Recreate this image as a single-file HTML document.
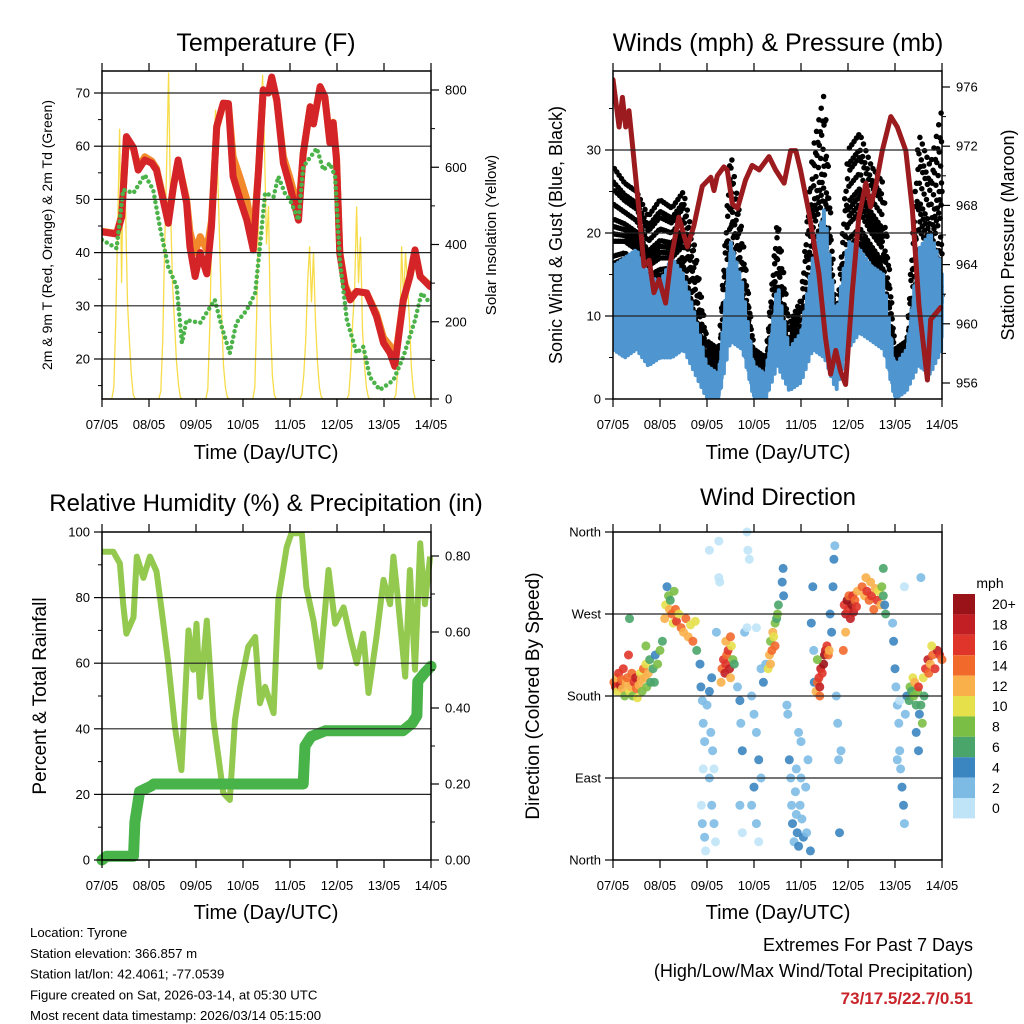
<!DOCTYPE html>
<html><head><meta charset="utf-8">
<style>
html,body{margin:0;padding:0;background:#fff;}
svg{display:block;font-family:"Liberation Sans",Arial,sans-serif;}
</style></head>
<body>
<svg id="c" width="1024" height="1024" viewBox="0 0 1024 1024"></svg>
<script>
// ---------- DATA ----------
const tempDays=[0,0.31,0.42,0.52,0.67,0.77,0.91,1.06,1.16,1.41,1.52,1.62,1.8,1.87,1.98,2.09,2.23,2.33,2.44,2.58,2.69,2.79,2.94,3.08,3.22,3.33,3.43,3.54,3.61,3.72,3.86,4.0,4.18,4.28,4.43,4.5,4.64,4.74,4.85,4.92,4.99,5.06,5.17,5.28,5.42,5.63,5.84,5.99,6.13,6.23,6.41,6.55,6.66,6.77,6.98];
const temp2m=[43.9,43.5,46.7,61.8,59.7,55.5,57.4,56.8,55.5,45.5,52.4,57.4,49.3,41.1,35.5,40,36,44.9,63.7,68.1,68,54.3,49.9,46.1,40.5,55.5,70.6,70,73,68.7,56.8,52.4,46.1,58.7,67.4,64.2,71.2,69.3,60.6,64.4,57.4,39.9,33.6,31.1,32.7,32.4,28,23,21.1,18.6,31.1,35.5,40.5,35.5,33.6];
const temp9m=[44,43.6,47,61.5,59.5,56,58,57.2,55.8,46,52.4,57.2,50,44,40,43,40.5,46,63.5,68,68,58,54,50,43,55.5,70.5,70,72.5,68.5,58,54,48,58.5,67.4,64.5,71,69.3,61,64.5,58,40,34,31.5,32.7,32.4,28.5,24,22.5,19.5,31,35.5,40,35.5,33.8];
const dewDays=[0,0.31,0.45,0.67,0.91,1.09,1.23,1.41,1.59,1.7,1.8,2.09,2.4,2.55,2.72,2.86,3.08,3.26,3.36,3.47,3.65,3.75,3.89,4.0,4.18,4.28,4.57,4.71,4.85,4.96,5.06,5.21,5.42,5.56,5.7,5.91,6.2,6.41,6.66,6.8,6.98];
const dew2m=[42.4,40.8,51.8,51.2,54.6,51.8,44.9,37.3,33.6,23,27.3,26.8,31.1,26,21.1,26.8,29.2,32.4,41.1,51.2,50.5,54.3,51.2,49.9,46.1,56.1,59.6,55.5,56.8,54.3,38.6,27.3,21.1,22.3,16.6,14.2,16,20.4,27.3,32.4,30.5];
// hourly solar insolation (W/m2), 7 days x 24 h
const solar=[
0,0,0,0,0,0,30,200,450,700,300,650,500,250,150,60,10,0,0,0,0,0,0,0,
0,0,0,0,0,0,20,150,400,600,845,500,300,200,100,40,5,0,0,0,0,0,0,0,
0,0,0,0,0,0,25,180,420,650,749,600,420,230,90,30,5,0,0,0,0,0,0,0,
0,0,0,0,0,0,30,220,500,700,840,650,400,500,200,60,10,0,0,0,0,0,0,0,
0,0,0,0,0,0,10,60,150,300,395,250,380,200,100,30,5,0,0,0,0,0,0,0,
0,0,0,0,0,0,10,80,200,280,498,300,420,180,90,30,5,0,0,0,0,0,0,0,
0,0,0,0,0,0,10,70,160,395,250,380,300,200,80,20,0,0,0,0,0,0,0,0];
const windDays=[0,0.25,0.5,0.75,1,1.25,1.5,1.75,2,2.25,2.5,2.75,3,3.25,3.5,3.75,4,4.25,4.5,4.75,5,5.25,5.5,5.75,6,6.25,6.5,6.75,7];
const windLo=[6,5,6,4,5,5,6,3,0,0,7,6,0,0,4,1,2,6,5,1,6,8,7,6,0,1,4,3,6];
const windHi=[16,17,18,15,14,17,15,10,4,3,19,14,4,3,14,6,8,17,23,10,19,18,16,15,4,6,18,20,16];
const gustLo=[10,12,11,10,10,11,12,6,2,1,12,9,1,1,9,2,3,11,12,3,12,13,12,10,1,2,9,8,10];
const gustHi=[28,26,25,22,24,23,25,18,7,6,30,20,6,5,22,9,12,30,37,9,30,32,28,26,6,7,32,28,35];
const presDays=[0,0.13,0.2,0.27,0.34,0.41,0.55,0.66,0.77,0.87,0.98,1.12,1.23,1.4,1.58,1.72,1.9,2.08,2.15,2.22,2.36,2.43,2.54,2.65,2.82,2.96,3.11,3.32,3.46,3.64,3.78,3.89,3.99,4.17,4.38,4.52,4.63,4.74,4.84,4.95,5.09,5.23,5.38,5.48,5.59,5.73,5.91,6.05,6.23,6.37,6.51,6.69,6.76,6.87,6.97];
const pressure=[976.5,973.3,975.3,973.3,974.4,972.2,967.7,963.9,964.3,962.1,963,961.4,964.3,967.2,965.2,966.6,969.3,969.9,969,970,970.6,970.4,968.1,967.8,969.7,970.7,970.4,971.3,970.4,969.5,971.7,971.7,970.4,967.5,963.4,959.1,956.6,958.2,956.8,955.9,962.1,967.2,969.5,967.9,969.3,971.7,974,973.3,971.7,967.7,961.2,956.2,960.3,960.7,961.1];
const rhDays=[0,0.24,0.38,0.45,0.52,0.67,0.74,0.88,1.02,1.16,1.27,1.41,1.55,1.69,1.84,1.94,2.01,2.09,2.23,2.37,2.58,2.72,2.83,2.94,3.11,3.26,3.36,3.47,3.65,3.75,3.93,4.03,4.25,4.35,4.5,4.64,4.82,4.96,5.14,5.28,5.42,5.56,5.67,5.84,5.99,6.13,6.2,6.3,6.45,6.55,6.66,6.77,6.87,6.98];
const rh=[94,94,90.4,78,69,74,92.5,86,92.5,88,76,60,40.6,27.4,70,58,72,49.7,73,42.7,20.4,18.3,42.7,52.8,65,68,47.8,52.8,44.8,79.3,95.4,99.6,99.6,83,73,58.9,88.4,72,77,68,60,69,50.9,68,85.4,78,92.5,79,55.9,88.4,58,96.6,78,92.5];
const precipDays=[0,0.1,0.67,0.7,0.8,1.05,1.1,4.28,4.32,4.45,4.75,6.4,6.6,6.7,6.72,6.85,7];
const precip=[0,0.01,0.01,0.1,0.18,0.195,0.2,0.2,0.3,0.325,0.34,0.34,0.36,0.38,0.47,0.49,0.51];
// wind direction scatter: [day, degrees, mph]
const dirObs=[[0.02,195,14],[0.05,190,16],[0.08,200,12],[0.1,185,10],[0.12,205,16],[0.15,192,18],[0.18,198,14],[0.2,188,12],[0.22,210,16],[0.25,180,8],[0.28,195,12],[0.3,200,14],[0.33,225,16],[0.35,185,10],[0.38,190,12],[0.4,205,14],[0.42,180,8],[0.45,195,16],[0.48,200,18],[0.5,188,14],[0.52,178,10],[0.55,192,12],[0.58,205,10],[0.6,198,12],[0.62,185,8],[0.65,210,14],[0.68,200,12],[0.7,215,10],[0.72,190,8],[0.75,205,12],[0.78,220,6],[0.8,195,6],[0.85,210,6],[0.88,195,6],[0.9,225,4],[0.95,215,8],[1.0,230,8],[1.05,240,6],[0.35,265,6],[0.7,235,8],
[1.1,265,12],[1.12,280,10],[1.15,300,4],[1.18,290,8],[1.2,275,12],[1.22,285,6],[1.25,270,14],[1.28,260,10],[1.3,295,8],[1.33,275,14],[1.35,262,16],[1.4,270,10],[1.45,255,14],[1.5,250,12],[1.55,265,14],[1.6,245,12],[1.65,258,10],[1.7,240,14],[1.75,262,10],[1.78,230,6],
[1.85,215,4],[1.87,190,4],[1.9,175,2],[1.92,150,2],[1.95,130,2],[1.88,60,0],[1.9,40,2],[1.95,25,2],[1.97,10,0],[2.0,170,2],[2.05,185,4],[2.1,200,4],[2.08,140,2],[2.12,120,2],[2.15,100,0],[2.1,60,2],[2.15,40,2],[2.18,20,0],[2.05,90,2],[1.92,100,0],
[2.05,340,0],[2.25,350,0],[2.27,305,0],[2.25,310,0],[2.2,250,2],
[2.3,195,12],[2.32,210,14],[2.35,220,16],[2.38,205,18],[2.4,215,16],[2.42,225,14],[2.45,230,16],[2.48,210,18],[2.5,200,12],[2.52,235,10],[2.55,220,8],[2.58,215,6],[2.4,240,12],[2.5,245,14],
[2.65,190,2],[2.7,175,4],[2.72,150,2],[2.75,120,4],[2.7,60,2],[2.75,30,0],[2.8,250,2],[2.85,360,0],[2.87,340,0],[2.9,330,0],[2.85,255,0],[2.95,180,2],[3.0,160,2],[3.05,140,2],[3.1,110,4],[3.15,90,2],[3.0,80,4],[3.05,40,2],[3.1,20,0],[2.95,60,2],[3.05,255,0],[3.15,210,2],[3.2,195,4],[3.25,215,2],
[3.3,210,10],[3.33,225,12],[3.35,240,8],[3.38,230,14],[3.4,250,12],[3.42,245,10],[3.45,260,8],[3.48,265,6],[3.5,270,8],[3.52,280,6],[3.35,215,12],[3.45,235,14],
[3.6,305,4],[3.62,320,4],[3.63,290,4],[3.7,170,2],[3.72,160,2],[3.75,110,4],[3.78,90,2],[3.8,60,2],[3.82,40,4],[3.85,20,2],[3.88,75,2],[3.9,50,2],[3.92,30,4],[3.95,15,4],[3.98,60,2],[4.0,90,2],[4.02,45,2],[4.05,25,4],[3.9,100,2],[4.1,80,2],[4.12,30,2],[4.15,110,2],[4.0,130,2],[4.2,10,4],[3.95,140,2],[4.25,300,4],[4.22,260,4],[4.27,230,2],[4.28,195,4],
[4.32,185,12],[4.35,195,14],[4.38,200,16],[4.4,190,18],[4.42,210,18],[4.45,205,16],[4.48,215,20],[4.5,225,20],[4.52,230,18],[4.55,235,16],[4.58,225,14],[4.6,230,12],[4.4,180,14],[4.35,220,8],
[4.62,270,4],[4.65,250,4],[4.68,300,4],[4.7,330,4],[4.72,345,2],[4.75,180,2],[4.78,150,2],[4.8,110,2],[4.82,30,4],[4.85,120,2],
[4.92,280,16],[4.95,270,18],[4.98,285,20],[5.0,275,16],[5.02,290,14],[5.05,265,18],[5.08,280,20],[5.1,290,16],[5.12,272,18],[5.15,285,14],[5.18,278,16],[5.2,295,12],[4.95,250,12],[4.9,230,14],
[5.3,300,14],[5.35,290,12],[5.38,310,12],[5.4,295,16],[5.45,285,14],[5.48,305,12],[5.5,290,16],[5.55,275,14],[5.58,298,12],[5.62,285,16],[5.65,295,10],[5.7,280,12],[5.72,300,8],[5.75,290,6],[5.78,280,4],[5.8,270,6],[5.75,320,6],
[5.95,260,2],[5.97,240,4],[6.0,210,4],[6.02,190,2],[6.05,170,2],[6.08,150,2],[6.1,120,2],[6.12,100,2],[6.15,80,4],[6.18,60,4],[6.2,40,2],[6.05,110,2],[6.1,175,0],[6.22,160,2],[6.25,180,4],[6.2,300,0],[6.55,310,2],
[6.3,175,6],[6.32,190,8],[6.35,185,6],[6.38,200,10],[6.4,180,8],[6.42,195,12],[6.45,170,6],[6.48,185,8],[6.5,190,16],[6.52,160,4],[6.55,170,6],[6.58,150,8],[6.6,200,10],[6.62,180,6],[6.45,140,4],[6.5,120,4],[6.65,210,16],[6.7,220,18],[6.72,205,14],[6.75,215,12],[6.8,225,14],[6.85,210,16],[6.9,230,18],[6.95,225,16],[7.0,220,14],[6.78,235,10]];
const dayLabels=["07/05","08/05","09/05","10/05","11/05","12/05","13/05","14/05"];
const speedLabels=["20+","18","16","14","12","10","8","6","4","2","0"];
const speedColors=["#bfe4f7","#7dbbe5","#3b85c0","#4aa56a","#7bbe45","#e6e04a","#f9b04a","#f2692c","#e0352a","#c21f24","#9a1318"];

// ---------- DRAWING ----------
const NS="http://www.w3.org/2000/svg";
const svg=document.getElementById('c');
function mk(tag,attrs,parent,text){const e=document.createElementNS(NS,tag);for(const k in attrs)e.setAttribute(k,attrs[k]);if(text!==undefined)e.textContent=text;(parent||svg).appendChild(e);return e;}
function grp(name,parent){const g=mk('g',{},parent);return g;}
function lin(d0,d1,p0,p1){return v=>p0+(v-d0)/(d1-d0)*(p1-p0);}
function interp(xs,ys,x){if(x<=xs[0])return ys[0];for(let i=1;i<xs.length;i++){if(x<=xs[i]){const t=(x-xs[i-1])/(xs[i]-xs[i-1]);return ys[i-1]+t*(ys[i]-ys[i-1]);}}return ys[ys.length-1];}
function path(xs,ys,X,Y){return xs.map((x,i)=>(i?'L':'M')+X(x).toFixed(1)+','+Y(ys[i]).toFixed(1)).join('');}

function frame(g,L,T,R,B,X,left,right){
  left.ticks.forEach(v=>{const y=left.Y(v);if(y>T+2&&y<B-2)mk('line',{x1:L,x2:R,y1:y,y2:y,stroke:'#222','stroke-width':1.2},g);});
  mk('rect',{x:L,y:T,width:R-L,height:B-T,fill:'none',stroke:'#000','stroke-width':1.5},g);
  for(let d=0;d<=7;d++){const x=X(d);mk('line',{x1:x,x2:x,y1:B,y2:B+8,stroke:'#000','stroke-width':1.2},g);mk('line',{x1:x,x2:x,y1:T,y2:T-8,stroke:'#000','stroke-width':1.2},g);
    const t=mk('text',{x:x,y:B+30,'font-size':13,'text-anchor':'middle'},g,dayLabels[d]);}
  left.ticks.forEach((v,i)=>{const y=left.Y(v);mk('line',{x1:L-8,x2:L,y1:y,y2:y,stroke:'#000','stroke-width':1.2},g);
    const t=mk('text',{x:L-12,y:y+4.5,'font-size':13,'text-anchor':'end'},g,left.labels[i]);});
  (left.minor||[]).forEach(v=>{const y=left.Y(v);mk('line',{x1:L-4,x2:L,y1:y,y2:y,stroke:'#000'},g);});
  if(right){right.ticks.forEach((v,i)=>{const y=right.Y(v);mk('line',{x1:R,x2:R+8,y1:y,y2:y,stroke:'#000','stroke-width':1.2},g);
    const t=mk('text',{x:R+14,y:y+4.5,'font-size':13},g,right.labels[i]);});
    (right.minor||[]).forEach(v=>{const y=right.Y(v);mk('line',{x1:R,x2:R+4,y1:y,y2:y,stroke:'#000'},g);});}
}
function label(g,txt,x,y,size,rot,name,anchor){const a={x:x,y:y,'font-size':size,'text-anchor':anchor||'middle'};if(rot)a.transform=`rotate(-90 ${x} ${y})`;const t=mk('text',a,g,txt);return t;}

// Panel 1: Temperature
(function(){
  const g=grp('temperature-panel');const L=102,T=71,R=431,B=399;
  const X=lin(0,7,L,R),Y=lin(20,70,359,93),YS=lin(0,800,399,90);
  const clip=mk('clipPath',{id:'cp1'},g);mk('rect',{x:L,y:T,width:R-L,height:B-T},clip);
  const pg=grp('temperature-plot',g);pg.setAttribute('clip-path','url(#cp1)');
  const sd=solar.map((v,i)=>i/24);
  const s=mk('path',{d:path(sd,solar,X,YS),fill:'none',stroke:'#f7dc4a','stroke-width':1.3},pg);
  const o=mk('path',{d:path(tempDays,temp9m,X,Y),fill:'none',stroke:'#f28a2c','stroke-width':7,'stroke-linejoin':'round','stroke-linecap':'round'},pg);
  const r=mk('path',{d:path(tempDays,temp2m,X,Y),fill:'none',stroke:'#d42427','stroke-width':7,'stroke-linejoin':'round','stroke-linecap':'round'},pg);
  const gr=mk('path',{d:path(dewDays,dew2m,X,Y),fill:'none',stroke:'#4bb349','stroke-width':4.5,'stroke-dasharray':'0 5.5','stroke-linecap':'round'},pg);
  frame(g,L,T,R,B,X,{Y:Y,ticks:[20,30,40,50,60,70],labels:['20','30','40','50','60','70'],minor:[15,25,35,45,55,65]},{Y:YS,ticks:[0,200,400,600,800],labels:['0','200','400','600','800'],minor:[100,300,500,700]});
  label(g,'Temperature (F)',266,51,25,false,'temperature-title');
  label(g,'2m & 9m T (Red, Orange) & 2m Td (Green)',52,235,14,true,'temperature-y-title');
  label(g,'Solar Insolation (Yellow)',496,235,15,true,'solar-y-title');
  label(g,'Time (Day/UTC)',266,459,20,false,'temperature-x-title');
})();

// Panel 2: Winds & Pressure
(function(){
  const g=grp('winds-panel');const L=613,T=71,R=942,B=399;
  const X=lin(0,7,L,R),Y=lin(0,30,399,150),YP=lin(956,976,383,87);
  const clip=mk('clipPath',{id:'cp2'},g);mk('rect',{x:L,y:T-4,width:R-L+4,height:B-T+4},clip);
  const pg=grp('winds-plot',g);pg.setAttribute('clip-path','url(#cp2)');
  const pat=[0.1,0.6,0.3,0.9,0.5,0.0,0.75,0.4,0.2,1.0,0.55,0.15,0.85,0.35,0.65];
  let gd='';let k=0;
  for(let d=0;d<=7.0001;d+=0.01){const lo=interp(windDays,gustLo,d),hi=interp(windDays,gustHi,d);
    for(let j=0;j<3;j++){const v=lo+(hi-lo)*pat[(k++)%pat.length];gd+=`M${X(d).toFixed(1)},${Y(v).toFixed(1)}h0`;}}
  const gp=mk('path',{d:gd,stroke:'#000','stroke-width':5.5,'stroke-linecap':'round',fill:'none'},pg);
  let bd='';k=0;
  for(let d=0;d<=7.0001;d+=0.004){const lo=interp(windDays,windLo,d),hi=interp(windDays,windHi,d);const v=lo+(hi-lo)*pat[(k++*7)%pat.length];bd+=(bd?'L':'M')+X(d).toFixed(1)+','+Y(v).toFixed(1);}
  const bp=mk('path',{d:bd,stroke:'#4f96d0','stroke-width':4,fill:'none','stroke-linejoin':'round'},pg);
  const pp=mk('path',{d:path(presDays,pressure,X,YP),fill:'none',stroke:'#9b1b1e','stroke-width':5,'stroke-linejoin':'round','stroke-linecap':'round'},pg);
  frame(g,L,T,R,B,X,{Y:Y,ticks:[0,10,20,30],labels:['0','10','20','30'],minor:[5,15,25,35]},{Y:YP,ticks:[956,960,964,968,972,976],labels:['956','960','964','968','972','976'],minor:[958,962,966,970,974]});
  label(g,'Winds (mph) & Pressure (mb)',778,51,25,false,'winds-title');
  label(g,'Sonic Wind & Gust (Blue, Black)',562,235,18,true,'wind-y-title');
  label(g,'Station Pressure (Maroon)',1014,235,18,true,'pressure-y-title');
  label(g,'Time (Day/UTC)',778,459,20,false,'winds-x-title');
})();

// Panel 3: RH & Precip
(function(){
  const g=grp('humidity-panel');const L=102,T=532,R=431,B=860;
  const X=lin(0,7,L,R),Y=lin(0,100,860,532),YP=lin(0,0.8,860,556);
  const clip=mk('clipPath',{id:'cp3'},g);mk('rect',{x:L-8,y:T,width:R-L+16,height:B-T+8},clip);
  const pg=grp('humidity-plot',g);pg.setAttribute('clip-path','url(#cp3)');
  const r=mk('path',{d:path(rhDays,rh,X,Y),fill:'none',stroke:'#93c94f','stroke-width':6,'stroke-linejoin':'round'},pg);
  const p=mk('path',{d:path(precipDays,precip,X,YP),fill:'none',stroke:'#47b348','stroke-width':11,'stroke-linejoin':'round','stroke-linecap':'round'},pg);
  frame(g,L,T,R,B,X,{Y:Y,ticks:[0,20,40,60,80,100],labels:['0','20','40','60','80','100'],minor:[10,30,50,70,90]},{Y:YP,ticks:[0,0.2,0.4,0.6,0.8],labels:['0.00','0.20','0.40','0.60','0.80'],minor:[0.1,0.3,0.5,0.7]});
  label(g,'Relative Humidity (%) & Precipitation (in)',266,511,24,false,'humidity-title');
  label(g,'Percent & Total Rainfall',46,696,19,true,'humidity-y-title');
  label(g,'Time (Day/UTC)',266,919,20,false,'humidity-x-title');
})();

// Panel 4: Wind direction
(function(){
  const g=grp('direction-panel');const L=613,T=532,R=942,B=860;
  const X=lin(0,7,L,R),Y=lin(0,360,860,532);
  const pg=grp('direction-plot',g);
  dirObs.forEach(o=>{const c=mk('circle',{cx:X(o[0]).toFixed(1),cy:Y(o[1]).toFixed(1),r:4.5,fill:speedColors[Math.min(10,Math.floor(o[2]/2))],'fill-opacity':0.9},pg);
    
    });
  frame(g,L,T,R,B,X,{Y:Y,ticks:[0,90,180,270,360],labels:['North','East','South','West','North']},null);
  label(g,'Wind Direction',778,505,24,false,'direction-title');
  label(g,'Direction (Colored By Speed)',539,696,19,true,'direction-y-title');
  label(g,'Time (Day/UTC)',778,919,20,false,'direction-x-title');
  const lg=grp('speed-colorbar',g);
  label(lg,'mph',990,588,14,false,'colorbar-title');
  const h=20.4;
  speedLabels.forEach((s,i)=>{const y=594+i*h;mk('rect',{x:953,y:y,width:22,height:h,fill:speedColors[10-i]},lg);
    label(lg,s,992,y+h/2+5,14,false,'colorbar-label','start');});
})();

// Footer
(function(){
  const g=grp('footer');
  const lines=['Location: Tyrone','Station elevation: 366.857 m','Station lat/lon: 42.4061; -77.0539','Figure created on Sat, 2026-03-14, at 05:30 UTC','Most recent data timestamp: 2026/03/14 05:15:00'];
  lines.forEach((s,i)=>label(g,s,30,937+i*20.8,13.2,false,'station-info-line','start'));
  label(g,'Extremes For Past 7 Days',973,951,18,false,'extremes-title','end');
  label(g,'(High/Low/Max Wind/Total Precipitation)',973,977,18,false,'extremes-subtitle','end');
  const t=label(g,'73/17.5/22.7/0.51',973,1004,17,false,'extremes-values','end');t.setAttribute('fill','#c8242a');t.setAttribute('font-weight','bold');
})();
</script>
</body></html>
